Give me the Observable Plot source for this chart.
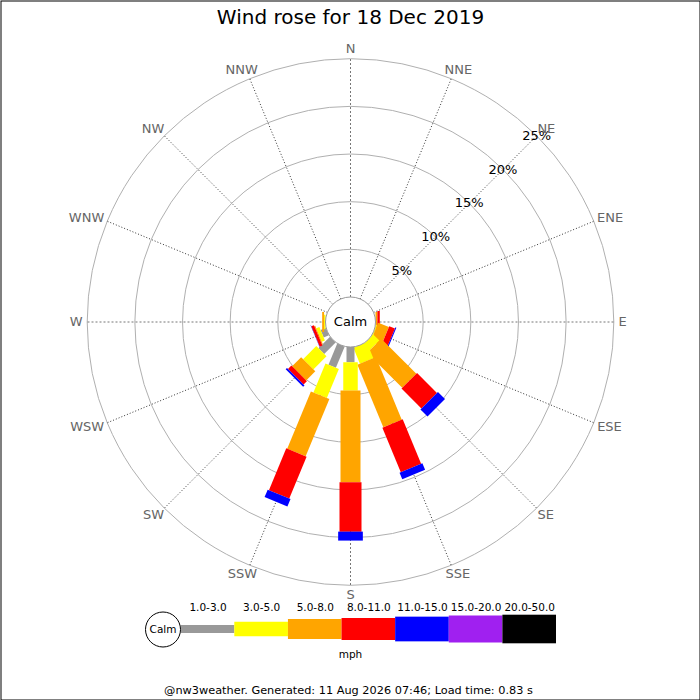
<!DOCTYPE html>
<html><head><meta charset="utf-8">
<script src="https://cdn.jsdelivr.net/npm/d3@7"></script>
<script src="https://cdn.jsdelivr.net/npm/@observablehq/plot@0.6"></script>
<style>body{margin:0;background:#fff}</style>
</head><body><div id="chart"></div>
<script>
const title = "Wind rose for 18 Dec 2019";
const footer = "@nw3weather. Generated: 11 Aug 2026 07:46; Load time: 0.83 s";
const unitLabel = "mph";
const calmLabel = "Calm";
const directions = ["N","NNE","NE","ENE","E","ESE","SE","SSE","S","SSW","SW","WSW","W","WNW","NW","NNW"];
const speedBins = ["1.0-3.0","3.0-5.0","5.0-8.0","8.0-11.0","11.0-15.0","15.0-20.0","20.0-50.0"];
const binColors = ["#999999","#ffff00","#ffa500","#ff0000","#0000ff","#a020f0","#000000"];
const ringValues = [5,10,15,20,25];
// percent of time per direction (N..NNW) for each speed bin
const pct1to3   = [0,0,0,0,0,0,0,0,1.6,2.4,1.7,0.6,0,0,0,0];
const pct3to5   = [0,0,0,0,0,0.1,0.9,1.8,2.97,3.3,1.95,0.35,0.15,0,0,0];
const pct5to8   = [0,0,0,0,0.2,1.2,5.2,7.1,9.63,6.5,1.35,0.1,0.2,0,0,0];
const pct8to11  = [0,0,0,0,0.25,0.65,2.95,5.05,5.17,4.75,0.5,0.3,0,0,0,0];
const pct11to15 = [0,0,0,0,0,0.1,1.05,0.75,0.94,0.85,0.2,0.03,0,0,0,0];
const pct15to20 = [0,0,0,0,0,0,0,0,0,0,0,0,0,0,0,0];
const pct20to50 = [0,0,0,0,0,0,0,0,0,0,0,0,0,0,0,0];
const series = [pct1to3,pct3to5,pct5to8,pct8to11,pct11to15,pct15to20,pct20to50];

// style constants
const binWidths = [8,14.5,20,22,24.7,27,28.6];
const calmR = 25, outerR = 263.3, labelR = 268, labelFont = 13, labelH = 10;
const rScale = d3.scaleLinear([0,25],[calmR,outerR]);
const ang = i => i * Math.PI / 8;
const px = (r,i) => r * Math.sin(ang(i));
const py = (r,i) => r * Math.cos(ang(i));

const ctx = document.createElement("canvas").getContext("2d");
ctx.font = labelFont + "px 'DejaVu Sans'";
const textW = s => ctx.measureText(s).width;

const segments = [];
directions.forEach((d,i) => {
  let c = 0;
  series.forEach((s,b) => {
    const v = s[i];
    if (v > 0) {
      segments.push({dir:d, bin:b, x1:px(rScale(c),i), y1:py(rScale(c),i), x2:px(rScale(c+v),i), y2:py(rScale(c+v),i)});
    }
    c += v;
  });
});

const spokes = directions.map((d,i)=>({d,i,cardinal: i%4===0}));
// label centre pushed outward by half its extent
const lblX = s => px(labelR,s.i) + Math.sin(ang(s.i)) * textW(s.d)/2;
const lblY = s => py(labelR,s.i) + Math.cos(ang(s.i)) * labelH/2;
const legendX = d3.scaleBand(speedBins, [180.7-350, 556-350]);
const legendY = 321.5 - 629;
const legendBins = speedBins.map((b,k)=>({b,k}));

const chart = Plot.plot({
  width:700, height:700, margin:0,
  x:{domain:[-350,350], axis:null},
  y:{domain:[-378.5,321.5], axis:null},
  r:{type:"identity"},
  color:{type:"identity"},
  style:{fontFamily:"DejaVu Sans", background:"white", color:"black"},
  marks:[
    Plot.dot(ringValues, {x:0, y:0, r:v=>rScale(v), fill:"none", stroke:"#b0b0b0", strokeWidth:1}),
    Plot.link(spokes.filter(s=>!s.cardinal), {x1:s=>px(calmR,s.i), y1:s=>py(calmR,s.i), x2:s=>px(outerR,s.i), y2:s=>py(outerR,s.i), stroke:"#333", strokeWidth:1, strokeDasharray:"1,2"}),
    Plot.link(spokes.filter(s=>s.cardinal), {x1:s=>px(calmR,s.i), y1:s=>py(calmR,s.i), x2:s=>px(outerR,s.i), y2:s=>py(outerR,s.i), stroke:"#777", strokeWidth:1, strokeDasharray:"2,2"}),
    Plot.link(segments, {x1:"x1", y1:"y1", x2:"x2", y2:"y2", stroke:d=>binColors[d.bin], strokeWidth:d=>binWidths[d.bin]}),
    Plot.dot([0], {x:0, y:0, r:calmR, fill:"white", stroke:"#999", strokeWidth:1}),
    Plot.text([calmLabel], {x:0, y:0, text:d=>d, fontSize:13, fill:"black"}),
    Plot.text(spokes, {x:lblX, y:lblY, text:"d", fontSize:labelFont, fill:"#666"}),
    Plot.text(ringValues, {x:v=>px(rScale(v),2), y:v=>py(rScale(v),2), text:v=>v+"%", fontSize:13, fill:"black"}),
    // legend
    Plot.rect(legendBins, {x1:d=>legendX(d.b), x2:d=>legendX(d.b)+legendX.bandwidth(), y1:d=>legendY-binWidths[d.k]/2, y2:d=>legendY+binWidths[d.k]/2, fill:d=>binColors[d.k]}),
    Plot.text(legendBins, {x:d=>legendX(d.b)+legendX.bandwidth()/2, y:321.5-607, text:"b", fontSize:10.5, fill:"black"}),
    Plot.dot([0], {x:162.5-350, y:legendY, r:17.5, fill:"white", stroke:"black", strokeWidth:1}),
    Plot.text([calmLabel], {x:162.5-350, y:legendY, text:d=>d, fontSize:10.5, fill:"black"}),
    Plot.text([unitLabel], {x:0, y:321.5-654, text:d=>d, fontSize:10.5, fill:"black"}),
    Plot.text([title], {x:0, y:321.5-17, text:d=>d, fontSize:20, fill:"black"}),
    Plot.text([footer], {x:-2, y:321.5-690, text:d=>d, fontSize:11.3, fill:"black"}),
    Plot.frame({stroke:"black", strokeWidth:1, inset:0.5})
  ]
});
document.getElementById("chart").appendChild(chart);
</script>
</body></html>
